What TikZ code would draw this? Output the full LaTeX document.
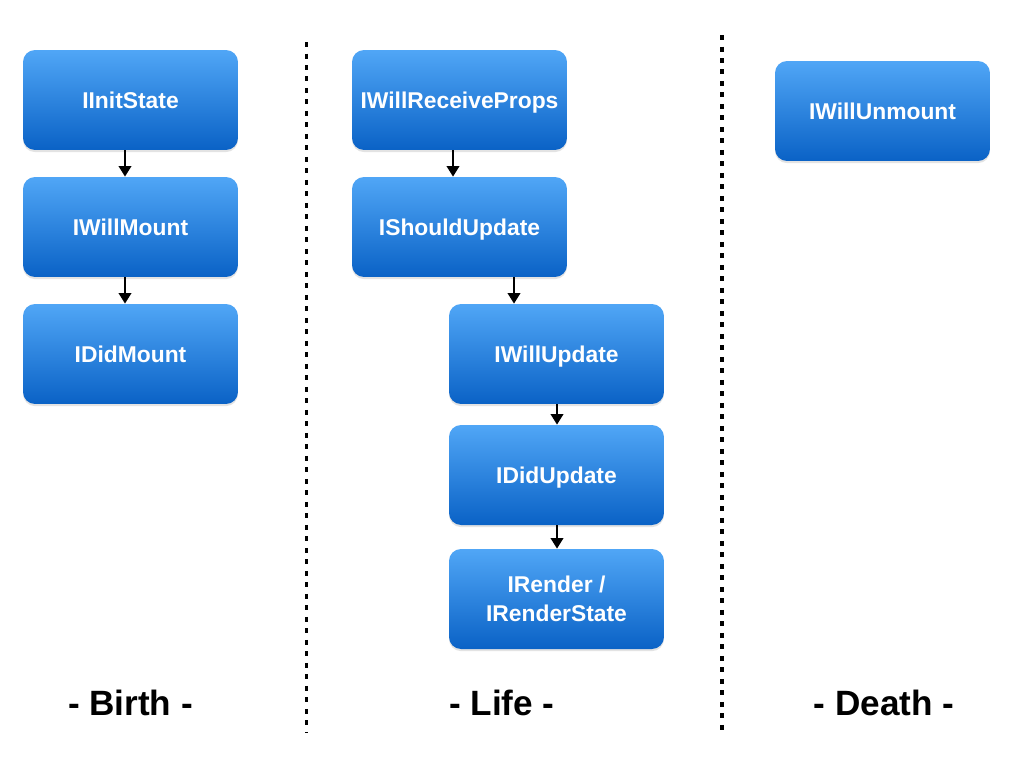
\documentclass[tikz,border=0pt]{standalone}
\usepackage{fontspec}
\setsansfont{Liberation Sans}
\usetikzlibrary{arrows.meta,shadows}
\definecolor{boxtop}{RGB}{80,166,246}
\definecolor{boxbot}{RGB}{10,98,198}

\begin{document}
\begin{tikzpicture}[x=0.02cm,y=-0.02cm]
	\tikzset{hook/.style={rounded corners=0.24cm,minimum width=4.3cm,minimum height=2cm,
		top color=boxtop,bottom color=boxbot,draw=none,text=white,align=center,
		text height=12pt,text depth=2.7pt,
		font=\sffamily\bfseries\fontsize{13}{16.5}\selectfont,
		drop shadow={opacity=0.22,shadow xshift=0pt,shadow yshift=-1.2pt}}}
	\tikzset{flow/.style={line width=1.4pt,-{Triangle[width=7pt,length=6pt]}}}
	\tikzset{divider/.style={line width=1.9pt,dash pattern=on 0.1cm off 0.13cm}}
	\tikzset{phase/.style={font=\sffamily\bfseries\fontsize{20}{24}\selectfont}}
	\useasboundingbox[fill=white] (0,0) rectangle (1024,768);
	% birth
	\node[hook] (init) at (130.5,100) {IInitState};
	\node[hook] (wmount) at (130.5,227) {IWillMount};
	\node[hook] (dmount) at (130.5,354) {IDidMount};
	% life
	\node[hook] (wprops) at (459.5,100) {IWillReceiveProps};
	\node[hook] (should) at (459.5,227) {IShouldUpdate};
	\node[hook] (wupd) at (556.5,354) {IWillUpdate};
	\node[hook] (dupd) at (556.5,475) {IDidUpdate};
	\node[hook,text height=,text depth=] (render) at (556.5,599) {IRender /\\IRenderState};
	% death
	\node[hook] (unmount) at (882.5,111) {IWillUnmount};
	\draw[flow] (init.south -| 125,0) -- (wmount.north -| 125,0);
	\draw[flow] (wmount.south -| 125,0) -- (dmount.north -| 125,0);
	\draw[flow] (wprops.south -| 453,0) -- (should.north -| 453,0);
	\draw[flow] (should.south -| 514,0) -- (wupd.north -| 514,0);
	\draw[flow] (wupd.south -| 557,0) -- (dupd.north -| 557,0);
	\draw[flow] (dupd.south -| 557,0) -- (render.north -| 557,0);
	\coordinate (lefttop) at (306.5,42);
	\coordinate (leftbot) at (306.5,732);
	\coordinate (righttop) at (722,35);
	\coordinate (rightbot) at (722,732);
	\draw[divider] (lefttop) -- (leftbot);
	\draw[divider] (righttop) -- (rightbot);
	\node[phase] (birth) at (130.5,703) {- Birth -};
	\node[phase] (life) at (502,703) {- Life -};
	\node[phase] (death) at (884,703) {- Death -};
\end{tikzpicture}
\end{document}
